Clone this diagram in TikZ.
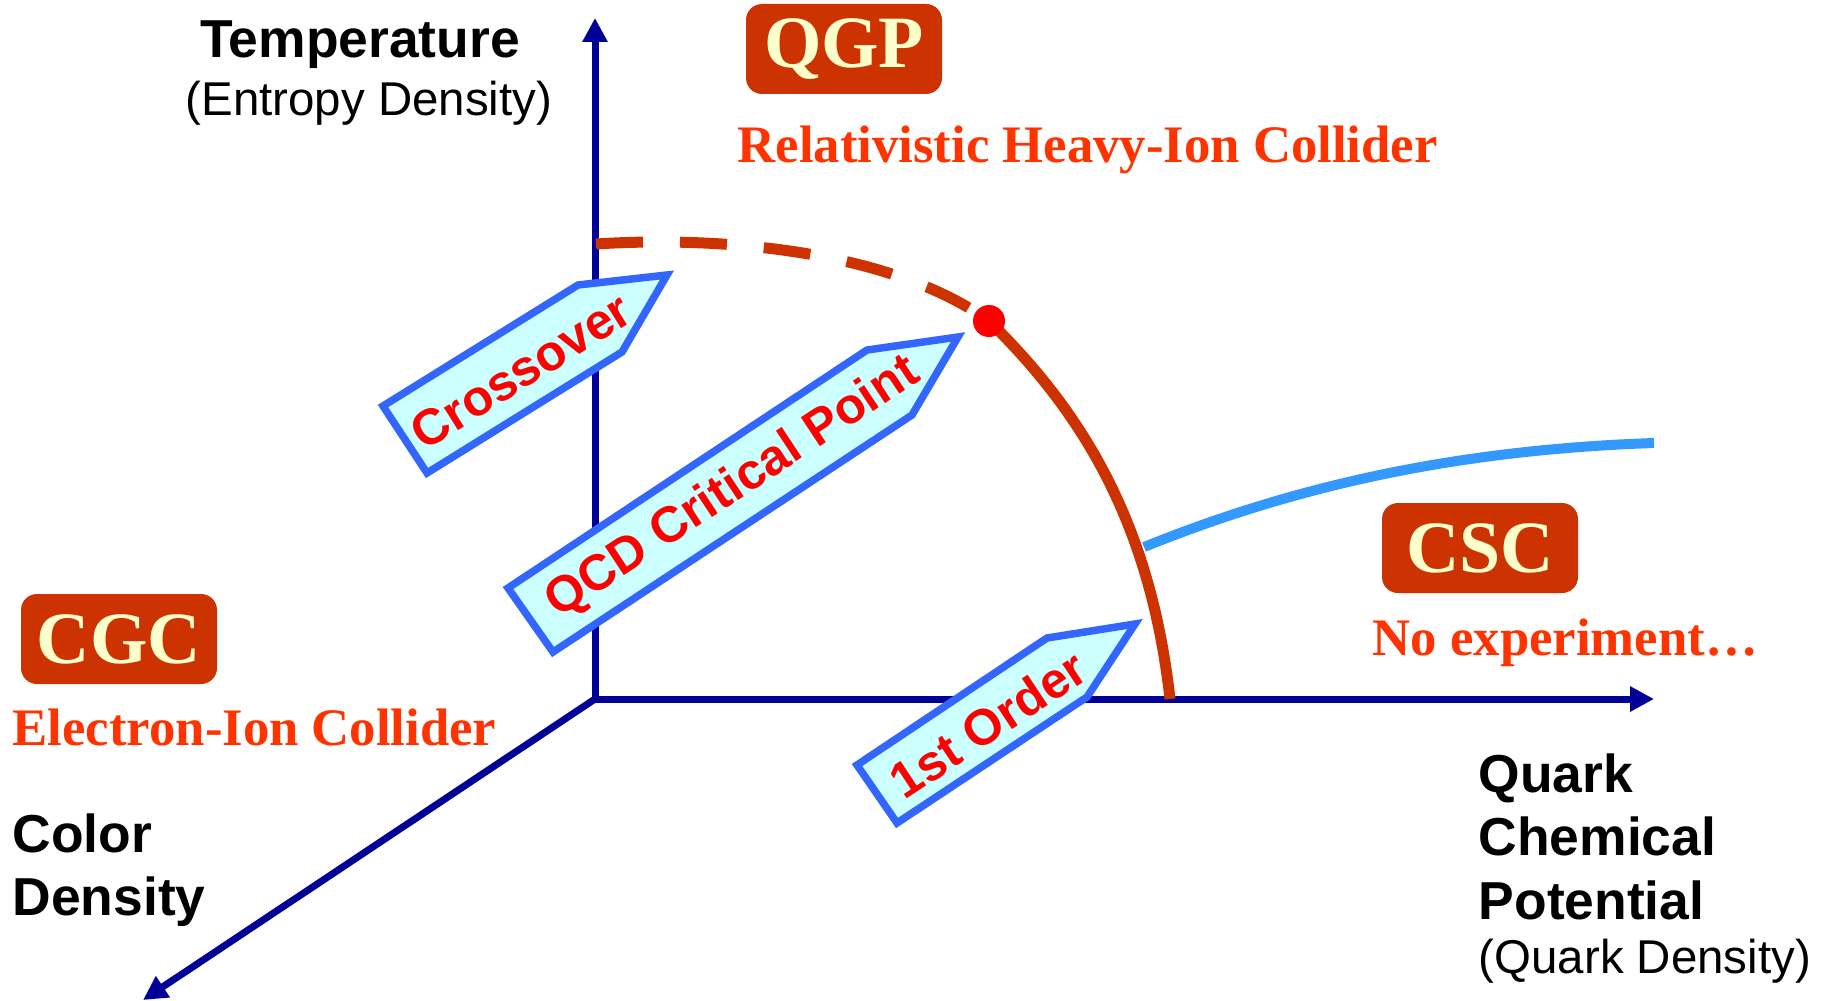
\documentclass[tikz,border=0pt]{standalone}
\usepackage{fontspec}
\setmainfont{Liberation Sans}
\newfontfamily\timesfont{Liberation Serif}
\usepackage{xcolor}
\usetikzlibrary{arrows.meta}
\definecolor{axisblue}{RGB}{0,0,153}
\definecolor{phaseorange}{RGB}{204,51,0}
\definecolor{cscblue}{RGB}{51,153,255}
\definecolor{tagborder}{RGB}{51,102,255}
\definecolor{tagfill}{RGB}{204,255,255}
\definecolor{tagred}{RGB}{255,0,0}
\definecolor{boxcream}{RGB}{255,255,204}
\definecolor{facilityred}{RGB}{255,51,0}

\begin{document}
\begin{tikzpicture}[x=0.1mm,y=-0.1mm,>={Triangle[length=2.4mm,width=2.4mm]},
  axis/.style={axisblue,line width=0.7mm,->},
  phase/.style={phaseorange,line width=1.1mm},
  tagbox/.style={draw=tagborder,fill=tagfill,line width=0.75mm,line join=miter},
  tagtext/.style={text=tagred,font=\fontsize{14.3}{16}\selectfont\bfseries,inner sep=0pt},
  statebox/.style={fill=phaseorange,rounded corners=1.6mm,minimum width=19.6mm,minimum height=9mm,
    text=boxcream,font=\timesfont\fontsize{21}{24}\selectfont\bfseries,inner sep=0pt},
  facility/.style={text=facilityred,font=\timesfont\fontsize{15}{18}\selectfont\bfseries,inner sep=0pt},
  axislabel/.style={font=\fontsize{15.2}{18}\selectfont\bfseries,inner sep=0pt},
  axisnote/.style={font=\fontsize{13.5}{16}\selectfont,inner sep=0pt}]
\useasboundingbox (0,0) rectangle (1826,1001);
\coordinate (O) at (595,699);
\coordinate (Tend) at (595,18);
\coordinate (Mend) at (1654,699);
\coordinate (Cend) at (143,1000);
\coordinate (xstart) at (596,244);
\coordinate (cp) at (989,321);
\coordinate (fobase) at (1170,699);
\coordinate (cscstart) at (1144,547);
\coordinate (cscend) at (1654,443);

\draw[axis] (O) -- (Tend);
\draw[axis] (O) -- (Mend);
\draw[axis] (O) -- (Cend);

\draw[cscblue,line width=1mm] (cscstart) .. controls (1290,488) and (1450,450) .. (cscend);
\draw[phase,dash pattern=on 4.7mm off 3.7mm] (xstart) .. controls (720,236) and (890,250) .. (cp);
\draw[phase] (cp) .. controls (1080,410) and (1150,520) .. (fobase);
\fill[tagred] (cp) circle[radius=1.6mm];

\draw[tagbox] (427,473) -- (383,406) -- (578,285) -- (667,275) -- (622,352) -- cycle;
\node[tagtext,rotate=32] (xover) at (521,371) {Crossover};
\draw[tagbox] (553,652) -- (508,588) -- (867,350) -- (958,337) -- (912,415) -- cycle;
\node[tagtext,rotate=33.4] (qcdcp) at (733,488) {QCD Critical Point};
\draw[tagbox] (897,823) -- (857,765) -- (1047,638) -- (1135,624) -- (1087,697) -- cycle;
\node[tagtext,rotate=33.5] (first) at (988,724) {1st Order};

\node[statebox] (qgp) at (844,49) {QGP};
\node[statebox] (cgc) at (119,639) {CGC};
\node[statebox] (csc) at (1480,548) {CSC};
\node[facility,anchor=base west] (rhic) at (737,163) {Relativistic Heavy-Ion Collider};
\node[facility,anchor=base west] (eic) at (12,745) {Electron-Ion Collider};
\node[facility,anchor=base west] (noexp) at (1372,655) {No experiment\ldots};

\node[axislabel,anchor=base] (ttemp) at (360,58) {Temperature};
\node[axisnote,anchor=base] (tentropy) at (369,116) {(Entropy Density)};
\node[axislabel,anchor=base west] (tcolor) at (12,852) {Color};
\node[axislabel,anchor=base west] (tdensity) at (12,915) {Density};
\node[axislabel,anchor=base west] (tquark) at (1478,792) {Quark};
\node[axislabel,anchor=base west] (tchem) at (1478,855) {Chemical};
\node[axislabel,anchor=base west] (tpot) at (1478,919) {Potential};
\node[axisnote,anchor=base west] (tqdens) at (1478,973) {(Quark Density)};
\end{tikzpicture}
\end{document}
